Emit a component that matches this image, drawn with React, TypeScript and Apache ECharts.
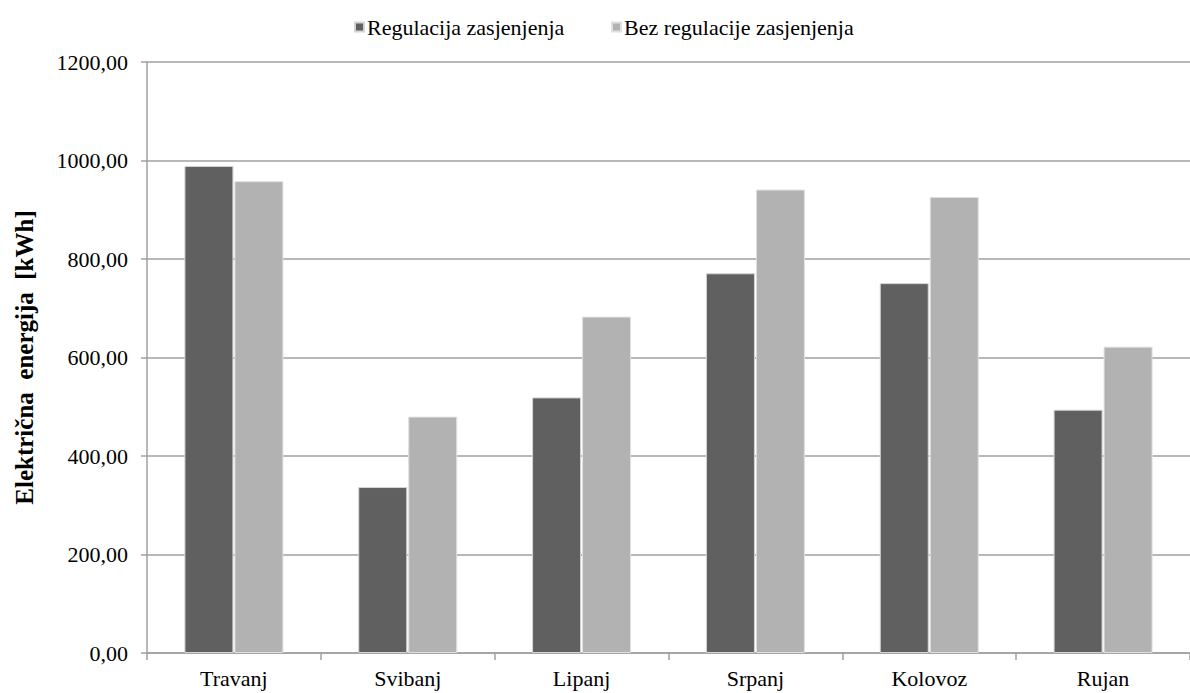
import React, { useEffect, useRef } from "react";
import * as echarts from "echarts";

const categories = ["Travanj", "Svibanj", "Lipanj", "Srpanj", "Kolovoz", "Rujan"];
const regulacija = [989, 337, 519, 771, 751, 494];
const bezRegulacije = [958, 480, 683, 941, 926, 622];
const seriesNames = ["Regulacija zasjenjenja", "Bez regulacije zasjenjenja"];
const yAxisTitle = "Električna  energija  [kWh]";

export default function App() {
  const ref = useRef<HTMLDivElement>(null);
  useEffect(() => {
    document.body.style.margin = "0";
    const chart = echarts.init(ref.current!, null, { renderer: "svg" });
    const font = "'Liberation Serif', 'Times New Roman', serif";
    const legendText = { fontFamily: font, fontSize: 22, color: "#000", padding: [0, 0, 0, -2] };
    chart.setOption({
      animation: false,
      backgroundColor: "#ffffff",
      textStyle: { fontFamily: font },
      legend: [
        {
          data: [seriesNames[0]],
          left: 349,
          top: 11,
          itemWidth: 9,
          itemHeight: 9,
          icon: "rect",
          textStyle: legendText,
        },
        {
          data: [seriesNames[1]],
          left: 606,
          top: 11,
          itemWidth: 9,
          itemHeight: 9,
          icon: "rect",
          textStyle: legendText,
        },
      ],
      grid: { left: 147, right: -14, top: 62, bottom: 40, containLabel: false },
      xAxis: {
        type: "category",
        data: categories,
        axisLine: { lineStyle: { color: "#a0a0a0", width: 1.5 } },
        axisTick: { show: true, length: 7, lineStyle: { color: "#a0a0a0", width: 1.5 } },
        axisLabel: { fontFamily: font, fontSize: 22, color: "#000", margin: 14 },
      },
      yAxis: {
        type: "value",
        min: 0,
        max: 1200,
        interval: 200,
        name: yAxisTitle,
        nameLocation: "middle",
        nameGap: 110,
        nameTextStyle: { fontFamily: font, fontSize: 25, fontWeight: "bold", color: "#000" },
        axisLine: { show: true, lineStyle: { color: "#a0a0a0", width: 1.5 } },
        axisTick: { show: true, length: 6, lineStyle: { color: "#a0a0a0", width: 1.5 } },
        axisLabel: {
          fontFamily: font,
          fontSize: 22,
          color: "#000",
          margin: 19,
          formatter: (v: number) => v.toFixed(2).replace(".", ","),
        },
        splitLine: { show: true, lineStyle: { color: "#a0a0a0", width: 1.5 } },
      },
      series: [
        {
          name: seriesNames[0],
          type: "bar",
          data: regulacija,
          barWidth: 49,
          barGap: "2%",
          itemStyle: { color: "#606060", borderColor: "#d4d4d4", borderWidth: 1 },
        },
        {
          name: seriesNames[1],
          type: "bar",
          data: bezRegulacije,
          barWidth: 49,
          itemStyle: { color: "#b2b2b2", borderColor: "#e0e0e0", borderWidth: 1 },
        },
      ],
    });
    return () => chart.dispose();
  }, []);
  return <div ref={ref} style={{ width: 1190, height: 693 }} />;
}
